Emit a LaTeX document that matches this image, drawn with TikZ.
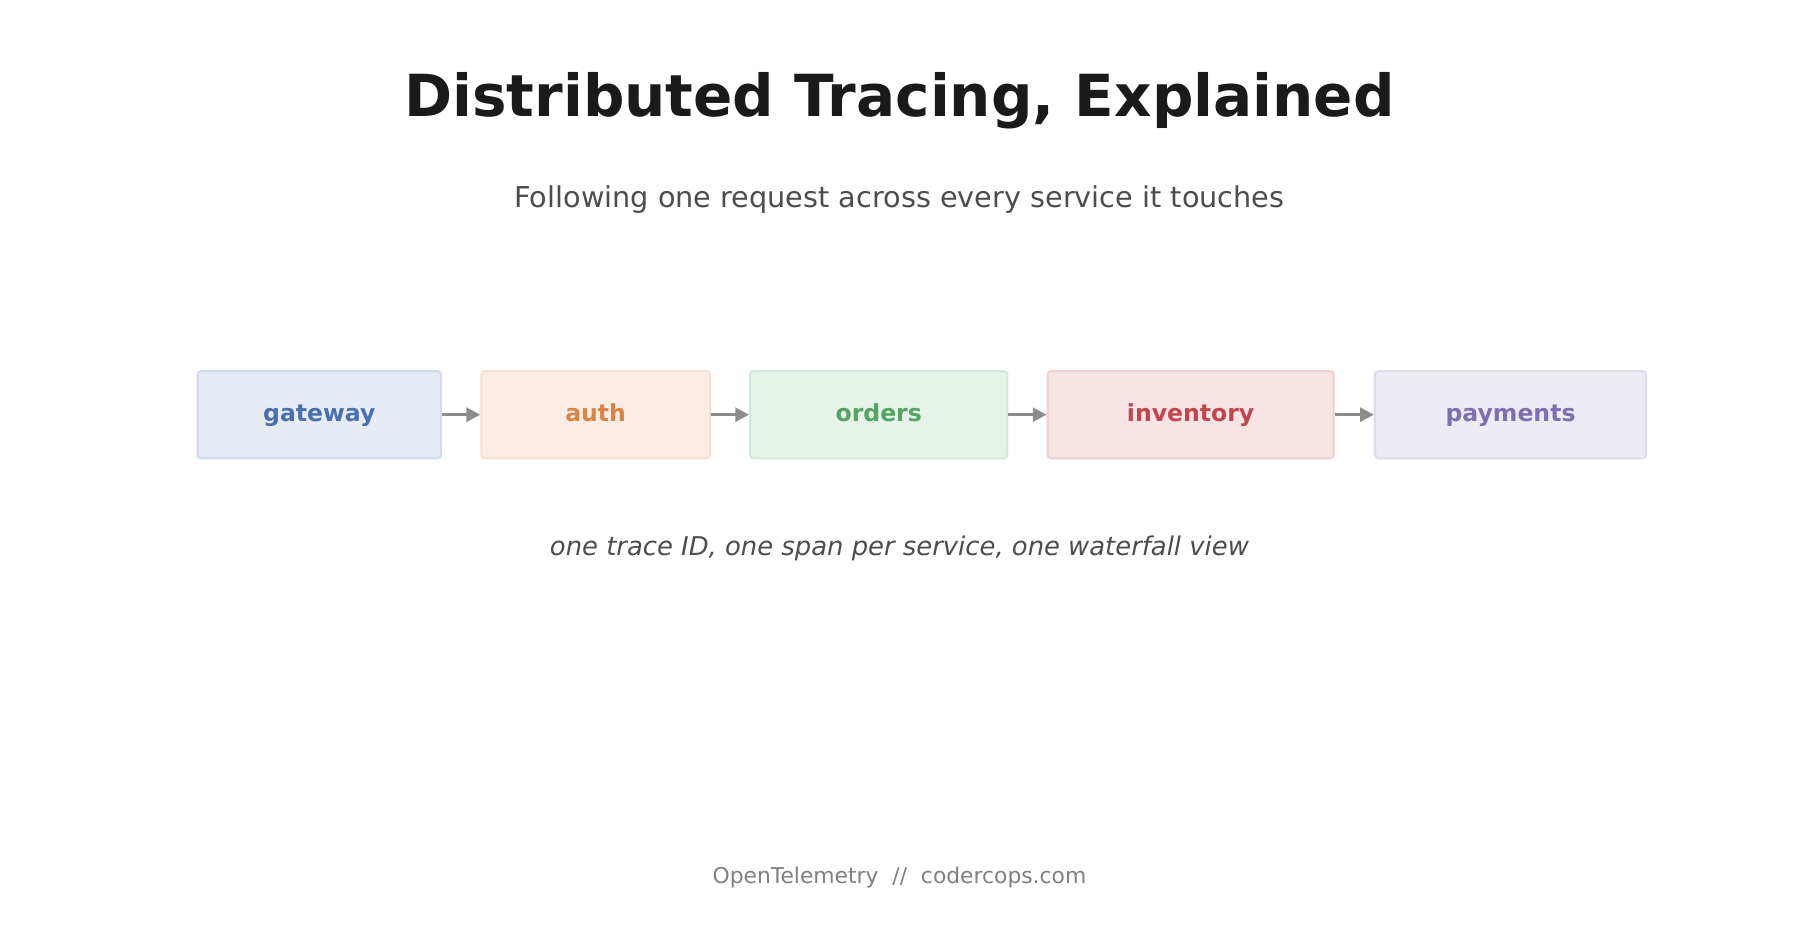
\documentclass[tikz,border=0pt]{standalone}
\usepackage{fontspec}
\setmainfont{DejaVu Sans}
\usetikzlibrary{arrows.meta}
\definecolor{tc}{HTML}{1A1A1A}
\definecolor{sc}{HTML}{4D4D4D}
\definecolor{fc}{HTML}{808080}
\definecolor{ac}{HTML}{8C8C8C}
\begin{document}
\begin{tikzpicture}[x=1pt,y=-1pt,
  box/.style={draw=#1!25, fill=#1!14, line width=1.8pt, rounded corners=3pt, inner sep=0pt,
    text=#1, font=\fontsize{20.5}{24}\selectfont\bfseries, text height=15pt, text depth=4pt},
  arr/.style={draw=ac, line width=2.6pt, -{Triangle[length=12pt,width=12pt]}}]
\definecolor{cg}{HTML}{4A6FAE}
\definecolor{ca}{HTML}{DB8246}
\definecolor{co}{HTML}{55A463}
\definecolor{ci}{HTML}{C3454F}
\definecolor{cp}{HTML}{7E6FB1}
\useasboundingbox (0,0) rectangle (1567,823);
\node[font=\fontsize{50.5}{56}\selectfont\bfseries, text=tc] (title) at (783,88) {Distributed Tracing, Explained};
\node[font=\fontsize{25}{30}\selectfont, text=sc] (sub) at (783,174) {Following one request across every service it touches};
\node[box=cg, minimum width=212pt, minimum height=76pt] (g) at (278,361) {gateway};
\node[box=ca, minimum width=199pt, minimum height=76pt] (a) at (518.5,361) {auth};
\node[box=co, minimum width=224pt, minimum height=76pt] (o) at (765,361) {orders};
\node[box=ci, minimum width=249pt, minimum height=76pt] (i) at (1036.5,361) {inventory};
\node[box=cp, minimum width=236pt, minimum height=76pt] (p) at (1315,361) {payments};
\draw[arr] (g) -- (a);
\draw[arr] (a) -- (o);
\draw[arr] (o) -- (i);
\draw[arr] (i) -- (p);
\node[font=\fontsize{22.5}{27}\selectfont\itshape, text=sc] (note) at (783,477) {one trace ID, one span per service, one waterfall view};
\node[font=\fontsize{19}{23}\selectfont, text=fc] (foot) at (783,764) {OpenTelemetry\ \ //\ \ codercops.com};
\end{tikzpicture}
\end{document}
